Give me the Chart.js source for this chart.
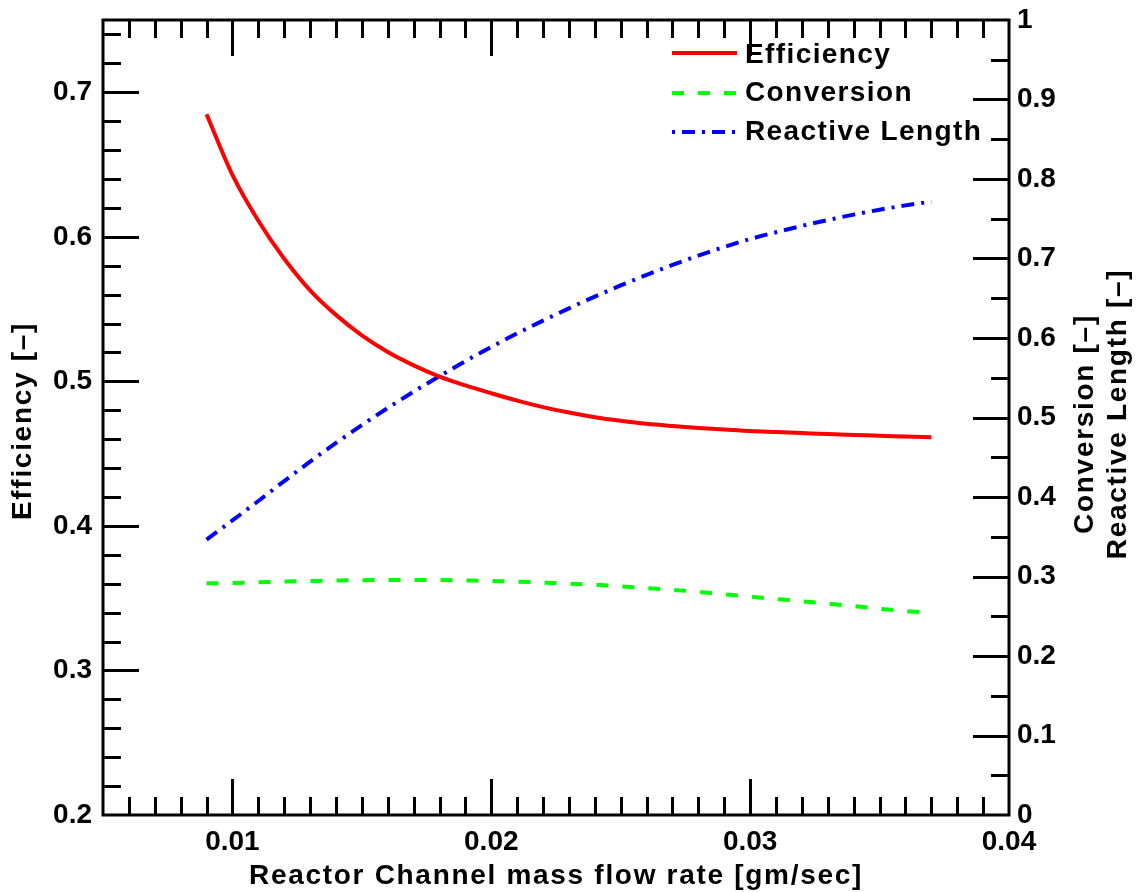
<!DOCTYPE html>
<html><head><meta charset="utf-8">
<script src="https://cdn.jsdelivr.net/npm/chart.js@4.4.1/dist/chart.umd.min.js"></script>
<style>html,body{margin:0;padding:0;background:#fff}canvas{display:block}</style>
</head><body>
<canvas id="c" width="1139" height="892"></canvas>
<script>
// ---- data ----
const massFlow = [0.009,0.010,0.011,0.012,0.013,0.014,0.015,0.016,0.017,0.018,0.019,0.020,0.021,0.022,0.023,0.024,0.025,0.026,0.027,0.028,0.029,0.030,0.031,0.032,0.033,0.034,0.035,0.036,0.037];
const efficiency = [0.6848,0.6428,0.6111,0.5848,0.5630,0.5460,0.5318,0.5203,0.5111,0.5033,0.4972,0.4918,0.4867,0.4822,0.4784,0.4752,0.4727,0.4706,0.4691,0.4678,0.4667,0.4656,0.4649,0.4642,0.4635,0.4629,0.4624,0.4618,0.4613];
const conversion = [0.2914,0.2919,0.2927,0.2936,0.2943,0.2949,0.2954,0.2956,0.2956,0.2955,0.2950,0.2945,0.2936,0.2923,0.2911,0.2896,0.2876,0.2853,0.2833,0.2806,0.2777,0.2747,0.2717,0.2689,0.2659,0.2628,0.2594,0.2565,0.2545];
const reactiveLength = [0.3465,0.3705,0.3950,0.4200,0.4445,0.4680,0.4905,0.5120,0.5325,0.5520,0.5708,0.5888,0.6058,0.6218,0.6373,0.6521,0.6661,0.6794,0.6919,0.7036,0.7145,0.7245,0.7330,0.7410,0.7484,0.7552,0.7614,0.7668,0.7715];

const seriesNames = ['Efficiency','Conversion','Reactive Length'];
const xTickValues = [0.01,0.02,0.03,0.04];
const xTickLabels = ['0.01','0.02','0.03','0.04'];
const leftTickValues = [0.2,0.3,0.4,0.5,0.6,0.7];
const leftTickLabels = ['0.2','0.3','0.4','0.5','0.6','0.7'];
const rightTickValues = [0,0.1,0.2,0.3,0.4,0.5,0.6,0.7,0.8,0.9,1];
const rightTickLabels = ['0','0.1','0.2','0.3','0.4','0.5','0.6','0.7','0.8','0.9','1'];
const xTitle = 'Reactor Channel mass flow rate [gm/sec]';
const leftTitle = 'Efficiency [\u2013]';
const rightTitleLines = ['Conversion [\u2013]','Reactive Length [\u2013]'];

// ---- styles ----
const FONT = '"Liberation Sans", Arial, Helvetica, sans-serif';
const minorStep = {x:0.001, y:0.02, y2:0.05};
const tickLen = {major:36, minor:18};

function pts(ys){ return massFlow.map((x,i)=>({x:x, y:ys[i]})); }
function setTicks(values){ return (scale)=>{ scale.ticks = values.map(v=>({value:v})); }; }
function labelFor(values, labels){ return (v)=>{ const i = values.findIndex(t=>Math.abs(t-v)<1e-9); return i>=0 ? labels[i] : ''; }; }
function fitTo(prop, size){ return (s)=>{ s[prop] = size; s.paddingTop = 0; s.paddingBottom = 0; s.paddingLeft = 0; s.paddingRight = 0; }; }

const rootStyle = {
  id:'rootStyle',
  afterDatasetsDraw(chart){
    const ctx = chart.ctx, a = chart.chartArea;
    const sx = chart.scales.x, sy = chart.scales.y, sy2 = chart.scales.y2;
    ctx.save();
    ctx.strokeStyle = '#000';
    ctx.lineCap = 'butt';
    // ticks
    ctx.lineWidth = 3;
    ctx.beginPath();
    const isMajor = (vals, v, st)=> vals.some(t=>Math.abs(t-v)<st/10);
    for (let i=Math.ceil(sx.min/minorStep.x-1e-6); i*minorStep.x<=sx.max+1e-9; i++){
      const v=i*minorStep.x, p=Math.round(sx.getPixelForValue(v))+0.5;
      if (p<=a.left+2||p>=a.right-2) continue;
      const L = isMajor(xTickValues,v,minorStep.x)?tickLen.major:tickLen.minor;
      ctx.moveTo(p,a.bottom); ctx.lineTo(p,a.bottom-L);
      ctx.moveTo(p,a.top); ctx.lineTo(p,a.top+L);
    }
    for (let i=Math.ceil(sy.min/minorStep.y-1e-6); i*minorStep.y<=sy.max+1e-9; i++){
      const v=i*minorStep.y, p=Math.round(sy.getPixelForValue(v))+0.5;
      if (p<=a.top+2||p>=a.bottom-2) continue;
      const L = isMajor(leftTickValues,v,minorStep.y)?tickLen.major:tickLen.minor;
      ctx.moveTo(a.left,p); ctx.lineTo(a.left+L,p);
    }
    for (let i=Math.ceil(sy2.min/minorStep.y2-1e-6); i*minorStep.y2<=sy2.max+1e-9; i++){
      const v=i*minorStep.y2, p=Math.round(sy2.getPixelForValue(v))+0.5;
      if (p<=a.top+2||p>=a.bottom-2) continue;
      const L = isMajor(rightTickValues,v,minorStep.y2)?tickLen.major:tickLen.minor;
      ctx.moveTo(a.right,p); ctx.lineTo(a.right-L,p);
    }
    ctx.stroke();
    // frame
    ctx.lineWidth = 3;
    ctx.strokeRect(a.left, a.top, a.right-a.left, a.bottom-a.top);

    // titles
    ctx.fillStyle = '#000';
    ctx.font = 'bold 28px ' + FONT;
    try { ctx.letterSpacing = '1.7px'; } catch(e) {}
    ctx.textAlign = 'center';
    ctx.textBaseline = 'middle';
    ctx.fillText(xTitle, (a.left+a.right)/2, 876);
    ctx.save();
    ctx.translate(23, 421);
    ctx.rotate(-Math.PI/2);
    ctx.fillText(leftTitle, 0, 0);
    ctx.restore();
    ctx.save();
    ctx.translate(1085, 424);
    ctx.rotate(-Math.PI/2);
    ctx.fillText(rightTitleLines[0], 0, 0);
    ctx.restore();
    ctx.save();
    ctx.translate(1118, 414);
    ctx.rotate(-Math.PI/2);
    ctx.fillText(rightTitleLines[1], 0, 0);
    ctx.restore();

    // legend
    try { ctx.letterSpacing = '1.4px'; } catch(e) {}
    ctx.textAlign = 'left';
    const rows = [55, 93, 132];
    const lineRows = [53, 93, 132];
    chart.data.datasets.forEach((ds, i)=>{
      ctx.save();
      ctx.strokeStyle = ds.borderColor;
      ctx.lineWidth = ds.borderWidth;
      ctx.setLineDash(ds.borderDash || []);
      ctx.lineDashOffset = ds.legendDashOffset || 0;
      ctx.beginPath();
      ctx.moveTo(a.right-337, lineRows[i]);
      ctx.lineTo(a.right-272, lineRows[i]);
      ctx.stroke();
      ctx.restore();
      ctx.fillText(ds.label, a.right-264, rows[i]);
    });
    ctx.restore();
  }
};

Chart.defaults.font.family = FONT;
Chart.defaults.font.size = 28;
Chart.defaults.font.weight = 'bold';
Chart.defaults.color = '#000';

new Chart(document.getElementById('c'), {
  type: 'line',
  data: {
    datasets: [
      {label: seriesNames[0], data: pts(efficiency), yAxisID: 'y', borderColor: '#ff0000', borderWidth: 4, pointRadius: 0, cubicInterpolationMode: 'monotone', fill: false},
      {label: seriesNames[1], data: pts(conversion), yAxisID: 'y2', borderColor: '#00ff00', borderWidth: 4, borderDash: [12,14], pointRadius: 0, cubicInterpolationMode: 'monotone', fill: false},
      {label: seriesNames[2], data: pts(reactiveLength), yAxisID: 'y2', borderColor: '#0000ff', borderWidth: 4, borderDash: [13,7,3,7], legendDashOffset: 20, pointRadius: 0, cubicInterpolationMode: 'monotone', fill: false}
    ]
  },
  options: {
    responsive: false,
    animation: false,
    devicePixelRatio: 1,
    layout: {padding: {top: 20, left: 0, right: 0, bottom: 0}},
    plugins: {legend: {display: false}, title: {display: false}, tooltip: {enabled: false}},
    scales: {
      x: {
        type: 'linear', position: 'bottom', min: 0.005, max: 0.04,
        grid: {display: false, drawTicks: false}, border: {display: false},
        afterBuildTicks: setTicks(xTickValues),
        afterFit: fitTo('height', 77),
        ticks: {autoSkip: false, maxRotation: 0, padding: 10, callback: labelFor(xTickValues, xTickLabels)}
      },
      y: {
        type: 'linear', position: 'left', min: 0.2, max: 0.75,
        grid: {display: false, drawTicks: false}, border: {display: false},
        afterBuildTicks: setTicks(leftTickValues),
        afterFit: fitTo('width', 103),
        ticks: {autoSkip: false, padding: 11, callback: labelFor(leftTickValues, leftTickLabels)}
      },
      y2: {
        type: 'linear', position: 'right', min: 0, max: 1,
        grid: {display: false, drawTicks: false}, border: {display: false},
        afterBuildTicks: setTicks(rightTickValues),
        afterFit: fitTo('width', 130),
        ticks: {autoSkip: false, padding: 8, callback: labelFor(rightTickValues, rightTickLabels)}
      }
    }
  },
  plugins: [rootStyle]
});
</script>
</body></html>
